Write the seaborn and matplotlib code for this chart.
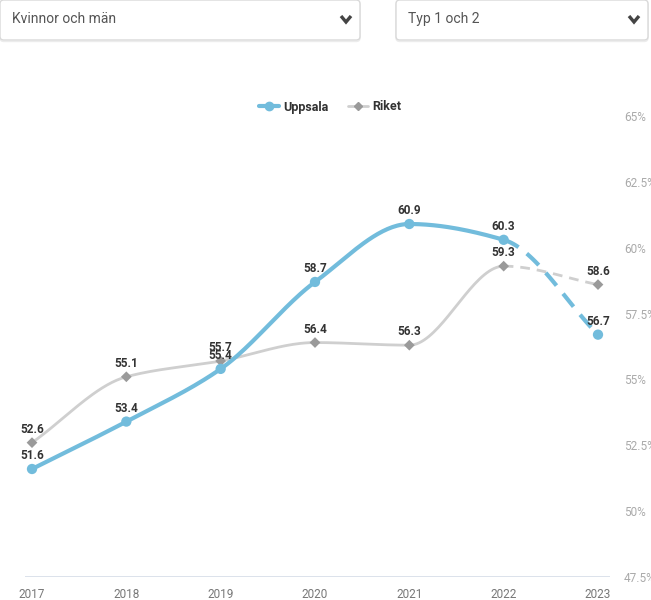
import numpy as np
import pandas as pd
import seaborn as sns
import matplotlib
matplotlib.use('Agg')
import matplotlib.pyplot as plt
from matplotlib.patches import FancyBboxPatch
from matplotlib.lines import Line2D

# Data
YEARS = [2017, 2018, 2019, 2020, 2021, 2022, 2023]
UPPSALA = [51.6, 53.4, 55.4, 58.7, 60.9, 60.3, 56.7]
RIKET = [52.6, 55.1, 55.7, 56.4, 56.3, 59.3, 58.6]
YTICKS = [47.5, 50, 52.5, 55, 57.5, 60, 62.5, 65]
DROPDOWNS = ['Kvinnor och män', 'Typ 1 och 2']

BLUE = '#72bcdc'
GREY_LINE = '#cfcfcf'
GREY_MARK = '#9a9a9a'
FONT = ['Roboto', 'DejaVu Sans']

W, H = 651, 600


def monotone_curve(x, y, n=40):
    """Smooth monotone cubic (Fritsch-Carlson) through the points, for drawing only."""
    x = np.asarray(x, float)
    y = np.asarray(y, float)
    h = np.diff(x)
    d = np.diff(y) / h
    m = np.zeros_like(y)
    m[0], m[-1] = d[0], d[-1]
    for i in range(1, len(x) - 1):
        if d[i - 1] * d[i] <= 0:
            m[i] = 0
        else:
            w1 = 2 * h[i] + h[i - 1]
            w2 = h[i] + 2 * h[i - 1]
            m[i] = (w1 + w2) / (w1 / d[i - 1] + w2 / d[i])
    xs, ys = [], []
    for i in range(len(x) - 1):
        t = np.linspace(0, 1, n)
        h00 = 2 * t**3 - 3 * t**2 + 1
        h10 = t**3 - 2 * t**2 + t
        h01 = -2 * t**3 + 3 * t**2
        h11 = t**3 - t**2
        seg = h00 * y[i] + h10 * h[i] * m[i] + h01 * y[i + 1] + h11 * h[i] * m[i + 1]
        xs.append(x[i] + t * h[i])
        ys.append(seg)
    return np.concatenate(xs), np.concatenate(ys)


def px(x, y):
    return x / W, 1 - y / H


sns.set_theme(style='white')
plt.rcParams['font.family'] = FONT

fig = plt.figure(figsize=(6.51, 6.0), dpi=100)
fig.patch.set_facecolor('white')

# dropdown boxes at the top
boxes = [(0, 360), (396, 648)]
for (x0, x1), label in zip(boxes, DROPDOWNS):
    for off, col in [(1.5, '#ececec'), (0, '#d9d9d9')]:
        fig.patches.append(FancyBboxPatch(
            px(x0, 40 + off), (x1 - x0) / W, 40 / H,
            boxstyle='round,pad=0,rounding_size=0.006',
            transform=fig.transFigure, facecolor='white',
            edgecolor=col, linewidth=1.0, zorder=1 if off else 2))
    fig.text(*px(x0 + 12, 19), label, fontsize=10, color='#555555',
             va='center', ha='left')
    cx = x1 - 14
    fig.add_artist(Line2D([(cx - 5) / W, cx / W, (cx + 5) / W],
                          [1 - 16 / H, 1 - 22 / H, 1 - 16 / H],
                          transform=fig.transFigure, zorder=6,
                          color='#444444', linewidth=2.4,
                          solid_capstyle='butt', solid_joinstyle='miter'))

# plot area
left, right, top, bottom = 25, 610, 116, 577
ax = fig.add_axes([left / W, 1 - bottom / H, (right - left) / W, (bottom - top) / H])
pxyr = (598 - 32) / 6
ax.set_xlim(2017 - 7 / pxyr, 2023 + 12 / pxyr)
ax.set_ylim(47.5, 65)

series = [('Riket', RIKET, GREY_LINE, 2.0, 'D', GREY_MARK, 30),
          ('Uppsala', UPPSALA, BLUE, 3.0, 'o', BLUE, 55)]
for name, vals, col, lw, mk, mcol, ms in series:
    cx_, cy_ = monotone_curve(YEARS, vals)
    curve = pd.DataFrame({'x': cx_, 'y': cy_})
    solid = curve[curve.x <= YEARS[-2]]
    dashed = curve[curve.x >= YEARS[-2]]
    sns.lineplot(data=solid, x='x', y='y', ax=ax, color=col, linewidth=lw,
                 sort=False, estimator=None, zorder=3)
    sns.lineplot(data=dashed, x='x', y='y', ax=ax, color=col, linewidth=lw,
                 sort=False, estimator=None, zorder=3, dashes=False,
                 linestyle=(0, (4, 2.5)) if name == 'Uppsala' else (0, (3.5, 2.5)))
    pts = pd.DataFrame({'x': YEARS, 'y': vals})
    sns.scatterplot(data=pts, x='x', y='y', ax=ax, color=mcol, marker=mk,
                    s=ms, edgecolor='none', zorder=4)
    for xv, yv in zip(YEARS, vals):
        ax.annotate(f'{yv:.1f}', (xv, yv), xytext=(0, 5), textcoords='offset points',
                    ha='center', va='bottom', fontsize=8.5, fontweight='bold',
                    color='#333333', zorder=5)

# baseline
ax.axhline(47.5, color='#d5dde8', linewidth=1.2, zorder=2)

for s in ax.spines.values():
    s.set_visible(False)
ax.grid(False)
ax.set_xlabel('')
ax.set_ylabel('')
ax.set_xticks(YEARS)
ax.set_xticklabels([str(y) for y in YEARS], fontsize=8.5, color='#777777')
ax.tick_params(axis='x', length=0, pad=8)
ax.yaxis.tick_right()
ax.set_yticks(YTICKS)
ax.set_yticklabels([f'{t:g}%' for t in YTICKS], fontsize=8.5, color='#aaaaaa')
ax.tick_params(axis='y', length=0, pad=10)
for lab in ax.get_yticklabels():
    lab.set_ha('left')

# legend
handles = [Line2D([], [], color=BLUE, linewidth=3, marker='o', markersize=6),
           Line2D([], [], color=GREY_LINE, linewidth=2, marker='D',
                  markersize=4, markerfacecolor=GREY_MARK, markeredgecolor=GREY_MARK)]
fig.legend(handles, ['Uppsala', 'Riket'], loc='center', bbox_to_anchor=px(330, 107),
           ncol=2, frameon=False, handlelength=1.6, handletextpad=0.4,
           columnspacing=1.5, prop={'family': FONT, 'size': 9, 'weight': 'bold'},
           labelcolor='#333333')

fig.savefig('out.png', dpi=100, facecolor='white')
